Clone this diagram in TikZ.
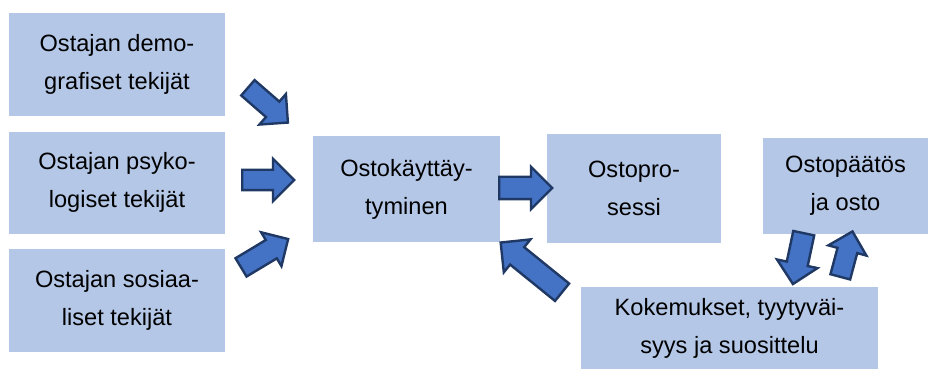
\documentclass[tikz,border=0pt]{standalone}
\usepackage{fontspec}
\setmainfont{Liberation Sans}
\usetikzlibrary{shapes.arrows,positioning}
\definecolor{boxblue}{HTML}{B4C7E7}
\definecolor{arrowblue}{HTML}{4472C4}
\definecolor{arrowline}{HTML}{1F3864}

\begin{document}
\begin{tikzpicture}[x=0.5pt, y=-0.5pt]
	\tikzstyle{factor} = [fill=boxblue, align=center, inner sep=0pt, font=\fontsize{11.8}{19}\selectfont]
	\tikzstyle{blockarrow} = [single arrow, draw=arrowline, fill=arrowblue, line width=1.2pt, inner xsep=0pt, inner ysep=5pt, anchor=tail, minimum width=20pt, single arrow head extend=5pt]
	\useasboundingbox (0,0) rectangle (928,369);
	% factors on the left
	\node[factor, minimum width=108pt, minimum height=51.5pt] (demo) at (117,64.5) {Ostajan demo-\\grafiset tekijät};
	\node[factor, minimum width=108pt, minimum height=51pt, below=7.5pt of demo] (psy) {Ostajan psyko-\\logiset tekijät};
	\node[factor, minimum width=108pt, minimum height=51.5pt, below=7pt of psy] (sos) {Ostajan sosiaa-\\liset tekijät};
	% main chain
	\node[factor, minimum width=93.5pt, minimum height=53pt] (kayt) at (406.5,189) {Ostokäyttäy-\\tyminen};
	\node[factor, minimum width=87pt, minimum height=54.5pt] (pros) at (634,188.5) {Ostopro-\\sessi};
	\node[factor, minimum width=82.5pt, minimum height=48pt] (paat) at (845.5,186) {Ostopäätös\\ja osto};
	\node[factor, minimum width=148.5pt, minimum height=41pt] (koke) at (729.5,328) {Kokemukset, tyytyväi-\\syys ja suosittelu};
	% block arrows
	\node[blockarrow, minimum height=26.5pt, inner ysep=4.5pt, minimum width=19pt, rotate=-41] (a1) at (247,87) {};
	\node[blockarrow, minimum height=26pt, inner ysep=4.5pt, single arrow head extend=5.5pt, rotate=0] (a2) at (241,180) {};
	\node[blockarrow, minimum height=27.5pt, inner ysep=4.75pt, single arrow head extend=4.5pt, minimum width=19pt, rotate=31] (a3) at (240,268) {};
	\node[blockarrow, minimum height=26.5pt, rotate=0] (a4) at (498,188) {};
	\node[blockarrow, minimum height=39.5pt, rotate=141] (a5) at (563,293) {};
	\node[blockarrow, minimum height=26pt, inner ysep=4.75pt, rotate=-102] (a6) at (804,232) {};
	\node[blockarrow, minimum height=23.5pt, inner ysep=4.5pt, single arrow head extend=4.75pt, minimum width=19pt, rotate=75] (a7) at (840,278) {};
\end{tikzpicture}
\end{document}
